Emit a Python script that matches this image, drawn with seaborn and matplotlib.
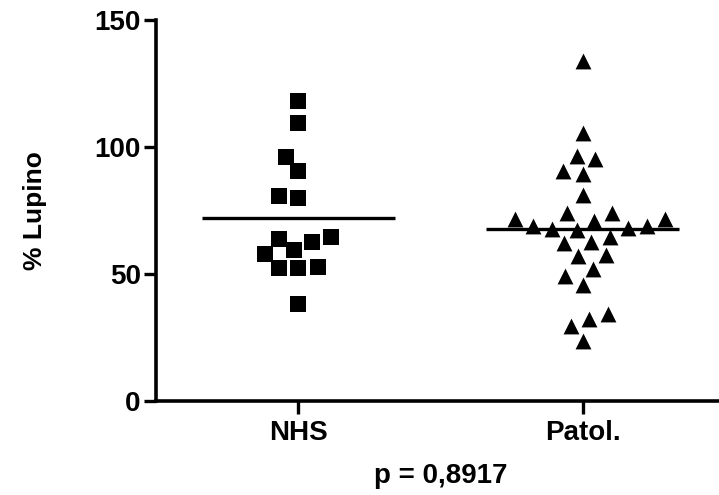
import numpy as np
import pandas as pd
import seaborn as sns
import matplotlib
matplotlib.use("Agg")
import matplotlib.pyplot as plt
from matplotlib.markers import MarkerStyle
from matplotlib.transforms import Affine2D

# values (% Lupino)
groups = ["NHS", "Patol."]
nhs_values = [118.1, 109.3, 96.2, 90.5, 80.8, 79.8, 64.7, 62.7, 63.7,
              57.8, 59.4, 52.5, 52.2, 52.9, 38.2]
patol_values = [133.7, 105.6, 96.5, 95.1, 89.5, 90.4, 81.2,
                71.6, 73.9, 71.6, 74.2, 70.8, 69.0, 68.0, 67.5, 67.8, 68.8,
                62.4, 62.0, 64.6, 57.5, 57.0, 52.0, 49.1, 45.7,
                32.1, 34.3, 29.4, 23.5]
p_label = "p = 0,8917"
y_label = "% Lupino"

df = pd.DataFrame({
    "group": ["NHS"] * len(nhs_values) + ["Patol."] * len(patol_values),
    "value": nhs_values + patol_values,
})

sns.set_style("ticks")
plt.rcParams["font.family"] = ["Liberation Sans", "DejaVu Sans"]
plt.rcParams["font.weight"] = "bold"
for k in ["text.color", "axes.labelcolor", "xtick.color", "ytick.color", "axes.edgecolor"]:
    plt.rcParams[k] = "black"

fig = plt.figure(figsize=(7.19, 4.95), dpi=100)
ax = fig.add_axes([0.217, 0.19, 0.791, 0.7696])

# swarm layout uses a slightly bigger size, markers drawn smaller (Prism-like gaps)
shrink = 0.85
markers = {"NHS": MarkerStyle("s", transform=Affine2D().scale(shrink)),
           "Patol.": MarkerStyle("^", transform=Affine2D().scale(shrink))}
for g in groups:
    sns.swarmplot(data=df[df["group"] == g], x="group", y="value", order=groups,
                  marker=markers[g], color="black", size=11.4 / shrink,
                  linewidth=0, ax=ax)

# mean lines
means = df.groupby("group")["value"].mean().reindex(groups)
ax.hlines(means.values, np.arange(len(groups)) - 0.34, np.arange(len(groups)) + 0.34,
          color="black", lw=2.4, zorder=3)

ax.set_xlim(-0.5, 1.5)
ax.set_ylim(0, 150)
ax.set_yticks([0, 50, 100, 150])
sns.despine(ax=ax)
for s in ["left", "bottom"]:
    ax.spines[s].set_linewidth(2.6)
ax.tick_params(axis="both", length=9, width=2.4, labelsize=20, pad=2, color="black",
               labelcolor="black")
ax.tick_params(axis="x", pad=5)
for lab in ax.get_xticklabels() + ax.get_yticklabels():
    lab.set_fontweight("bold")

ax.set_xlabel(p_label, fontsize=20, fontweight="bold", labelpad=12)
ax.set_ylabel(y_label, fontsize=19, fontweight="bold", labelpad=34)

fig.savefig("out.png", dpi=100)
